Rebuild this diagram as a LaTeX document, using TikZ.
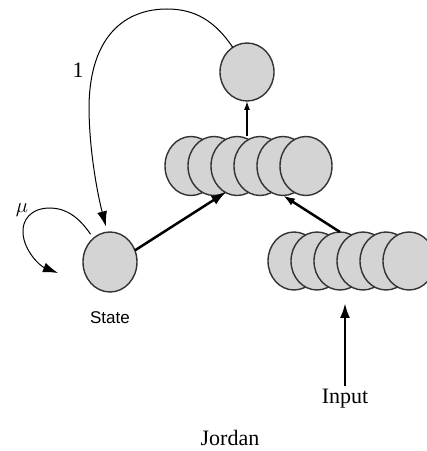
\documentclass[tikz,border=0pt]{standalone}
\usepackage{fontspec}
\setmainfont{Liberation Serif}
\newfontfamily\statefont{Liberation Sans}
\usetikzlibrary{arrows.meta,shapes.geometric}

\begin{document}
\begin{tikzpicture}[x=1pt,y=1pt,>={Latex[length=15pt,width=10pt]},
    unit/.style={ellipse,draw=black!80,line width=1.4pt,fill=black!17,
      minimum width=52pt,minimum height=59pt,inner sep=0pt,outer sep=0pt},
    link/.style={->,line width=2.5pt},
    wire/.style={->,line width=1pt}]
    \useasboundingbox (0,0) rectangle (427,451);
    \clip (0,0) rectangle (427,451);
    % output unit
    \node[unit,minimum width=54pt,minimum height=58pt] (out) at (247,379) {};
    % hidden layer, drawn left to right so each disc covers the one before
    \foreach \k in {1,...,6} \node[unit] (h\k) at ({168+23*\k},285) {};
    % input layer (runs off the right edge)
    \foreach \k in {1,...,6} \node[unit,minimum height=58pt] (i\k) at ({271+23*\k},190) {};
    % state unit
    \node[unit,minimum width=54pt,minimum height=60pt] (state) at (110,189) {};
    % labels
    \node[font=\statefont\fontsize{17}{20}\selectfont] (statelbl) at (110,133) {State};
    \node[font=\fontsize{22}{26}\selectfont] (inp) at (345,52) {Input};
    \node[font=\fontsize{22}{26}\selectfont] (name) at (230,13) {Jordan};
    \node[font=\fontsize{22}{26}\selectfont] (one) at (78,381) {1};
    \node[font=\fontsize{20}{24}\selectfont] (mu) at (22,241) {$\mu$};
    % forward connections
    \draw[link] (state.25) -- (h2.-65);
    \draw[link,-{Latex[length=12pt,width=8pt]}] (i3.north) -- (h5.south);
    \draw[wire,line width=1.5pt,-{Latex[length=9pt,width=6pt]}] (out.south |- h3.north) -- (out.south);
    \draw[link,shorten >=13pt] (inp.north) -- (inp.north |- i3.south);
    % feedback from output to state, weight 1
    \draw[wire,shorten >=6pt] (out.120) .. controls (215,430) and (195,442) .. (167,442)
      .. controls (125,442) and (90,415) .. (89,345)
      .. controls (89,300) and (98,255) .. (state.95);
    % self loop on the state unit, weight mu
    \draw[wire,shorten <=5pt] (state.125) .. controls (78,235) and (65,243) .. (50,243)
      .. controls (30,243) and (22,230) .. (23,218)
      .. controls (24,200) and (40,185) .. (58,178);
\end{tikzpicture}
\end{document}
